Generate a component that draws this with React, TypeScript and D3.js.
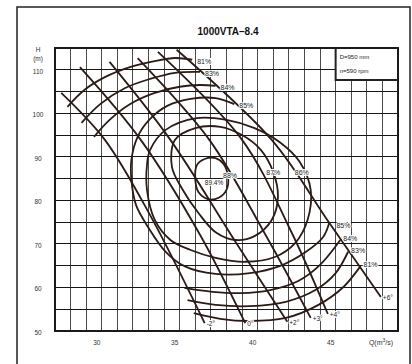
import * as d3 from "d3"

// axis ticks
const qTicks = [30, 35, 40, 45]
const hTicks = [50, 60, 70, 80, 90, 100, 110]

// blade angle lines (Q in m3/s, H in m)
const bladeLabels = ["-2°", "0°", "+2°", "+3°", "+4°", "+6°"]
const bladeQ = [
  [27.4, 30.2, 33.1, 36.6],
  [28.6, 32.5, 36.3, 39.2],
  [30.5, 34.4, 38.5, 41.9],
  [32.3, 36.9, 40.5, 43.4],
  [33.6, 39.0, 42.1, 44.5],
  [34.8, 40.9, 44.6, 47.9],
]
const bladeH = [
  [104.7, 93.9, 76.6, 51.8],
  [110.6, 93.9, 72.1, 51.8],
  [111.8, 93.9, 70.9, 52.1],
  [112.7, 93.9, 72.1, 53.0],
  [114.1, 93.9, 73.2, 53.9],
  [114.6, 93.9, 74.8, 57.8],
]

// efficiency contours cut by the blade limits: upper and lower branches
const branchLabels = ["81%", "83%", "84%"]
const upperQ = [
  [27.8, 28.9, 30.2, 31.8, 33.4, 34.7, 35.8],
  [28.7, 29.9, 31.5, 33.1, 34.7, 36.3],
  [29.5, 30.5, 31.8, 33.4, 35.0, 36.3, 37.3],
]
const upperH = [
  [101.5, 105.4, 108.3, 110.6, 112.0, 112.7, 112.3],
  [97.8, 102.1, 105.8, 107.9, 109.3, 109.5],
  [94.6, 98.5, 102.1, 104.7, 106.1, 106.5, 106.3],
]
const lowerQ = [
  [35.9, 37.6, 39.5, 41.8, 43.9, 45.5, 46.6],
  [35.5, 37.3, 39.5, 41.8, 43.7, 45.0, 45.8],
  [35.3, 37.1, 38.9, 40.8, 42.6, 44.0, 45.3],
]
const lowerH = [
  [54.1, 52.8, 52.3, 53.0, 56.0, 60.1, 64.9],
  [57.1, 56.0, 55.7, 56.7, 59.4, 63.3, 68.2],
  [59.9, 59.0, 58.7, 59.4, 61.5, 65.2, 70.9],
]

// 85% contour, open to the right
const eff85Q = [38.5, 37.3, 35.7, 34.2, 33.1, 32.3, 31.9, 31.9, 32.2, 33.0, 34.1, 35.3, 37.3, 39.5, 41.4, 43.1, 44.2, 44.6]
const eff85H = [102.1, 103.5, 103.3, 101.7, 98.7, 94.6, 89.3, 84.7, 78.9, 73.7, 68.2, 64.9, 63.1, 63.3, 64.9, 68.2, 71.6, 75.0]

// closed contours
const loopLabels = ["86%", "87%", "88%"]
const loopQ = [
  [33.1, 34.1, 36.1, 38.0, 39.8, 41.4, 42.7, 43.4, 43.2, 42.4, 41.1, 39.2, 37.3, 35.7, 34.4, 33.4, 32.9, 32.9],
  [34.7, 36.0, 37.6, 39.0, 40.2, 41.0, 41.3, 40.9, 39.8, 38.6, 37.3, 36.2, 35.2, 34.5],
  [36.1, 36.6, 37.3, 37.8, 38.1, 38.0, 37.5, 36.8, 36.2, 36.0],
]
const loopH = [
  [91.6, 96.2, 98.9, 98.5, 96.6, 93.4, 88.8, 82.4, 75.5, 70.2, 67.0, 65.9, 66.8, 68.6, 70.9, 75.5, 82.4, 88.1],
  [93.9, 96.6, 96.9, 95.0, 91.6, 86.5, 80.8, 75.5, 71.8, 70.9, 72.7, 77.1, 82.4, 87.7],
  [88.1, 89.5, 89.7, 88.4, 85.4, 82.4, 80.6, 80.3, 81.9, 84.7],
]

// best efficiency point
const peakQ = 37.2
const peakH = 84.0
const peakLabel = "89.4%"

const W = 412
const H = 364
const plot = { left: 55, top: 48, right: 398, bottom: 331 }
const ink = "#2a1b16"
const font = "'Liberation Sans', Arial, sans-serif"

export default function App() {
  const x = d3.scaleLinear().domain([27, 49]).range([plot.left, plot.right])
  const y = d3.scaleLinear().domain([50, 115]).range([plot.bottom, plot.top])

  const open = d3
    .line<[number, number]>()
    .x((d) => x(d[0]))
    .y((d) => y(d[1]))
    .curve(d3.curveCatmullRom.alpha(0.5))
  const closed = d3
    .line<[number, number]>()
    .x((d) => x(d[0]))
    .y((d) => y(d[1]))
    .curve(d3.curveCatmullRomClosed.alpha(0.5))

  const pts = (qs: number[], hs: number[]) => qs.map((q, i) => [q, hs[i]] as [number, number])

  const vGrid = d3.range(28, 49)
  const hGrid = d3.range(55, 115, 5)

  const labelStyle = {
    fontSize: 7,
    fontFamily: font,
    fill: "#222",
    stroke: "#fff",
    strokeWidth: 2,
    paintOrder: "stroke",
  } as React.CSSProperties

  const last = (qs: number[], hs: number[]) => [x(qs[qs.length - 1]), y(hs[hs.length - 1])]

  return (
    <div style={{ position: "absolute", left: 0, top: 0 }}>
      <svg width={W} height={H} style={{ display: "block", background: "#fff" }}>
        {/* outer frame */}
        <rect x={17} y={7} width={393} height={370} fill="none" stroke="#222" strokeWidth={1.5} />

        <text x={228} y={35} textAnchor="middle" fontSize={10} fontWeight="bold" fontFamily={font} fill="#111">
          1000VTA–8.4
        </text>

        {/* grid */}
        <g shapeRendering="crispEdges">
          {vGrid.map((q) => (
            <line key={"v" + q} x1={x(q)} x2={x(q)} y1={plot.top} y2={plot.bottom} stroke="#4a4a4a" strokeWidth={1} />
          ))}
          {hGrid.map((h) => (
            <line key={"h" + h} x1={plot.left} x2={plot.right} y1={y(h)} y2={y(h)} stroke="#151515" strokeWidth={1} />
          ))}
        </g>

        {/* efficiency contours */}
        <g fill="none" stroke={ink} strokeWidth={1.8}>
          {upperQ.map((qs, i) => (
            <path key={"u" + i} d={open(pts(qs, upperH[i])) || ""} />
          ))}
          {lowerQ.map((qs, i) => (
            <path key={"l" + i} d={open(pts(qs, lowerH[i])) || ""} />
          ))}
          <path d={open(pts(eff85Q, eff85H)) || ""} />
          {loopQ.map((qs, i) => (
            <path key={"c" + i} d={closed(pts(qs, loopH[i])) || ""} />
          ))}
        </g>

        {/* blade angle lines */}
        <g fill="none" stroke={ink} strokeWidth={1.8}>
          {bladeQ.map((qs, i) => (
            <path key={"b" + i} d={open(pts(qs, bladeH[i])) || ""} />
          ))}
        </g>

        {/* contour labels */}
        {branchLabels.map((t, i) => {
          const [ux, uy] = last(upperQ[i], upperH[i])
          const [lx, ly] = last(lowerQ[i], lowerH[i])
          return (
            <g key={"bl" + i}>
              <text x={ux + 5} y={uy + 4} style={labelStyle}>{t}</text>
              <text x={lx + 3} y={ly + 1} style={labelStyle}>{t}</text>
            </g>
          )
        })}
        <text x={x(eff85Q[0]) + 5} y={y(eff85H[0]) + 4} style={labelStyle}>85%</text>
        <text x={x(eff85Q[eff85Q.length - 1]) + 7} y={y(eff85H[eff85H.length - 1]) + 6} style={labelStyle}>85%</text>
        <text x={x(loopQ[0][6]) + 2} y={y(loopH[0][6]) + 13} textAnchor="middle" style={labelStyle}>{loopLabels[0]}</text>
        <text x={x(loopQ[1][5])} y={y(loopH[1][5]) + 3} textAnchor="middle" style={labelStyle}>{loopLabels[1]}</text>
        <text x={x(loopQ[2][4]) + 2} y={y(loopH[2][4]) + 1} textAnchor="middle" style={labelStyle}>{loopLabels[2]}</text>
        <text x={x(peakQ)} y={y(peakH) + 2} textAnchor="middle" style={{ ...labelStyle, fontSize: 6.5 }}>{peakLabel}</text>

        {/* blade labels */}
        {bladeLabels.map((t, i) => {
          const [bx, by] = last(bladeQ[i], bladeH[i])
          return (
            <text key={"bt" + i} x={bx + 2} y={by + 3} style={{ ...labelStyle, fontSize: 6.5 }}>{t}</text>
          )
        })}

        {/* legend box */}
        <rect x={x(45)} y={plot.top} width={plot.right - x(45)} height={32} fill="#fff" stroke="#222" strokeWidth={2} />
        <text x={x(45) + 4} y={plot.top + 11} fontSize={6} fontFamily={font} fill="#222">D=950 mm</text>
        <text x={x(45) + 4} y={plot.top + 25} fontSize={6} fontFamily={font} fill="#222">n=590 rpm</text>

        {/* plot border */}
        <rect x={plot.left} y={plot.top} width={plot.right - plot.left} height={plot.bottom - plot.top} fill="none" stroke="#1a1a1a" strokeWidth={2} />

        {/* axes labels */}
        {hTicks.map((h) => (
          <text key={"yt" + h} x={38} y={y(h) + 4} textAnchor="middle" fontSize={6.5} fontFamily={font} fill="#333">
            {h}
          </text>
        ))}
        {qTicks.map((q) => (
          <text key={"xt" + q} x={x(q) - 5} y={345} textAnchor="middle" fontSize={6.5} fontFamily={font} fill="#333">
            {q}
          </text>
        ))}
        <text x={38} y={52} textAnchor="middle" fontSize={6.5} fontFamily={font} fill="#333">H</text>
        <text x={38} y={61} textAnchor="middle" fontSize={6.5} fontFamily={font} fill="#333">(m)</text>
        <text x={381} y={345} textAnchor="middle" fontSize={7} fontFamily={font} fill="#333">
          Q(m<tspan fontSize={5} dy={-3}>3</tspan><tspan dy={3}>/s)</tspan>
        </text>
      </svg>
    </div>
  )
}
